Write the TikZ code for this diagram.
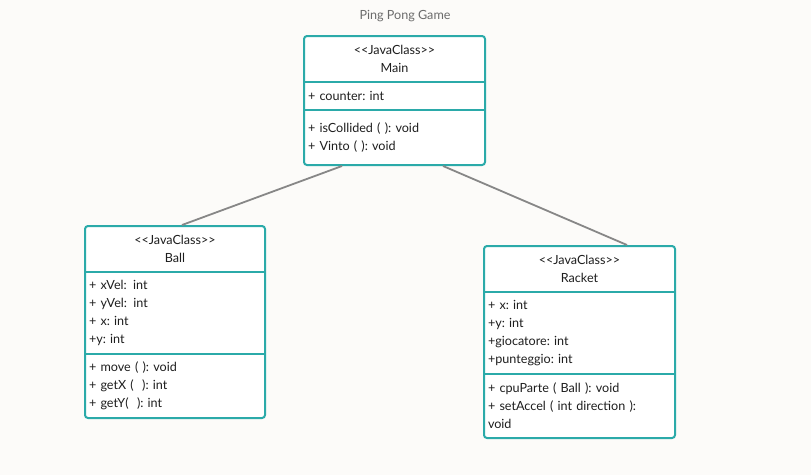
\documentclass[tikz,border=0pt]{standalone}
\usepackage{fontspec}
\setmainfont{Lato}
\usetikzlibrary{positioning,fit,calc}
\definecolor{umlteal}{HTML}{2BAAA9}
\definecolor{paper}{HTML}{FCFBF9}
\definecolor{linkgray}{HTML}{878787}
\definecolor{titlegray}{HTML}{6B6B6B}
\definecolor{ink}{HTML}{1E1E1E}
\frenchspacing

\begin{document}
\begin{tikzpicture}[x=1pt, y=-1pt, font=\fontsize{12.6}{18}\selectfont,
  part/.style={fill=white, text=ink, inner xsep=4pt, inner ysep=0pt, outer sep=0pt},
  classhead/.style={part, align=center, minimum height=46pt},
  classbody/.style={part, align=left},
  classframe/.style={draw=umlteal, line width=2pt, rounded corners=3pt, inner sep=0pt},
  divider/.style={draw=umlteal, line width=2pt},
  link/.style={draw=linkgray, line width=1.8pt}]
  % Canvas
  \fill[paper] (0,0) rectangle (811,475);
  \useasboundingbox (0,0) rectangle (811,475);
  \node[text=titlegray] (title) at (405,16) {Ping Pong Game};

  % Main class
  \node[classhead, anchor=north, text width=173pt] (mainhead) at (394.5,36) {<\kern0pt<JavaClass>\kern0pt>\\Main};
  \node[classbody, text width=173pt, minimum height=28pt, below=0pt of mainhead] (mainattr) {+ counter: int};
  \node[classbody, text width=173pt, minimum height=55pt, below=0pt of mainattr] (mainops) {+ isCollided ( ): void\\+ Vinto ( ): void\\[-2pt]};
  \node[classframe, fit=(mainhead)(mainops)] (main) {};
  \draw[divider] (mainhead.south west) -- (mainhead.south east);
  \draw[divider] (mainattr.south west) -- (mainattr.south east);

  % Ball class
  \node[classhead, anchor=north, text width=172pt] (ballhead) at (175,226) {<\kern0pt<JavaClass>\kern0pt>\\Ball};
  \node[classbody, text width=172pt, minimum height=82pt, below=0pt of ballhead] (ballattr) {+ xVel:\,\ int\\+ yVel:\,\ int\\+ x: int\\+y: int};
  \node[classbody, text width=172pt, minimum height=64pt, below=0pt of ballattr] (ballops) {+ move ( ): void\\+ getX (\ \ ): int\\+ getY(\ \ ): int};
  \node[classframe, fit=(ballhead)(ballops)] (ball) {};
  \draw[divider] (ballhead.south west) -- (ballhead.south east);
  \draw[divider] (ballattr.south west) -- (ballattr.south east);

  % Racket class
  \node[classhead, anchor=north, text width=183pt] (rackethead) at (579.5,246) {<\kern0pt<JavaClass>\kern0pt>\\Racket};
  \node[classbody, text width=183pt, minimum height=82pt, below=0pt of rackethead] (racketattr) {+ x: int\\+y: int\\+giocatore: int\\+punteggio: int};
  \node[classbody, text width=183pt, minimum height=64pt, below=0pt of racketattr] (racketops) {+ cpuParte ( Ball ): void\\+ setAccel ( int direction ):\\void};
  \node[classframe, fit=(rackethead)(racketops)] (racket) {};
  \draw[divider] (rackethead.south west) -- (rackethead.south east);
  \draw[divider] (racketattr.south west) -- (racketattr.south east);

  % Associations
  \draw[link] ([xshift=-52.5pt]main.south) -- ([xshift=7pt]ball.north);
  \draw[link] ([xshift=48.5pt]main.south) -- ([xshift=47.5pt]racket.north);
\end{tikzpicture}
\end{document}
